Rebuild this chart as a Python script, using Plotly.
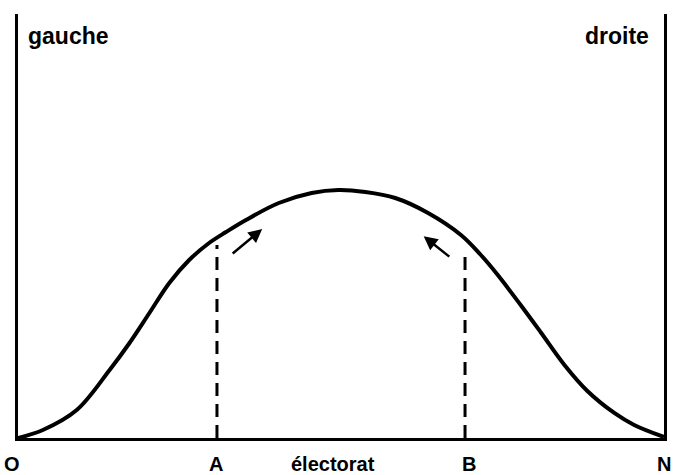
import plotly.graph_objects as go

# Electorate distribution curve (position 0 = O, 100 = N)
curve_x = [0, 3.85, 9.09, 14.18, 17.26, 20.34, 23.42, 26.50, 29.58, 32.20, 35.29,
           40.37, 45.45, 49.61, 53.78, 58.40, 63.48, 68.57, 71.65, 74.27, 77.81,
           80.89, 84.59, 88.14, 92.30, 95.38, 100]
curve_y = [0, 1.89, 6.60, 16.04, 22.41, 29.48, 36.56, 41.98, 45.99, 48.58, 51.42,
           55.42, 57.78, 58.49, 58.02, 56.60, 53.07, 47.88, 43.16, 38.44, 31.37,
           25.0, 17.22, 11.08, 5.90, 3.07, 0.24]

# Party positions A and B (dashed verticals) and top of each dashed line
party_x = [30.8, 69.2]
party_y = [45.5, 43.6]

# Arrows (tail -> head) showing movement toward the centre
arrow_tail_x = [33.0, 67.0]
arrow_tail_y = [43.2, 42.5]
arrow_head_x = [37.8, 62.8]
arrow_head_y = [49.3, 47.6]

# Bottom labels (O and N sit at the ends of the axis)
bottom_labels = ["O", "A", "électorat", "B", "N"]
bottom_pos = [0.0, 30.6, 48.8, 69.8, 100.0]
bottom_shift = [-6, 0, 0, 0, 0]

# Top labels
top_labels = ["gauche", "droite"]

FONT = "Liberation Sans"

fig = go.Figure()

fig.add_trace(go.Scatter(
    x=curve_x, y=curve_y, mode="lines",
    line=dict(color="black", width=4, shape="spline", smoothing=1.0),
    hoverinfo="skip", showlegend=False))

for px, py in zip(party_x, party_y):
    fig.add_trace(go.Scatter(
        x=[px, px], y=[0, py], mode="lines",
        line=dict(color="black", width=3, dash="13px,8px"),
        hoverinfo="skip", showlegend=False))

for tx, ty, hx, hy in zip(arrow_tail_x, arrow_tail_y, arrow_head_x, arrow_head_y):
    fig.add_annotation(x=hx, y=hy, ax=tx, ay=ty, xref="x", yref="y",
                       axref="x", ayref="y", text="", showarrow=True,
                       arrowhead=2, arrowsize=1.1, arrowwidth=2.5,
                       arrowcolor="black")

for lab, pos, sh in zip(bottom_labels, bottom_pos, bottom_shift):
    fig.add_annotation(x=pos, y=0, xref="x", yref="paper", text=lab,
                       showarrow=False, xanchor="center", yanchor="middle",
                       xshift=sh, yshift=-26,
                       font=dict(family=FONT, size=20, color="black", weight="bold"))

fig.add_annotation(x=0, y=1, xref="paper", yref="paper", text=top_labels[0],
                   showarrow=False, xanchor="left", yanchor="middle",
                   xshift=8, yshift=-22,
                   font=dict(family=FONT, size=23, color="black", weight="bold"))
fig.add_annotation(x=1, y=1, xref="paper", yref="paper", text=top_labels[1],
                   showarrow=False, xanchor="right", yanchor="middle",
                   xshift=-13, yshift=-22,
                   font=dict(family=FONT, size=23, color="black", weight="bold"))

fig.update_xaxes(range=[0, 100], showgrid=False, zeroline=False,
                 showticklabels=False, ticks="", showline=True,
                 linecolor="black", linewidth=3)
fig.update_yaxes(range=[0, 100], showgrid=False, zeroline=False,
                 showticklabels=False, ticks="", showline=True, mirror=True,
                 linecolor="black", linewidth=3)

fig.update_layout(
    width=673, height=475,
    margin=dict(l=18, r=6, t=14, b=37),
    paper_bgcolor="white", plot_bgcolor="white",
    showlegend=False)

# Remove the page's default 8px body margin so the figure fills the window
fig.write_html("out.html",
               config={"displayModeBar": False, "staticPlot": True},
               post_script="document.body.style.margin='0px';"
                           "document.body.style.overflow='hidden';")
